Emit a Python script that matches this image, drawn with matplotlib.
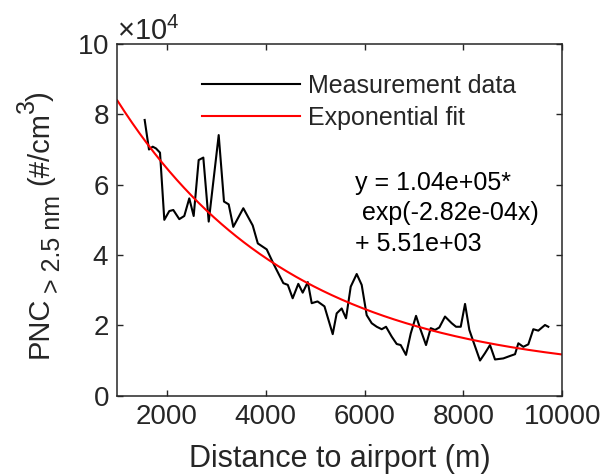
import numpy as np
import matplotlib
matplotlib.use('Agg')
import matplotlib.pyplot as plt

plt.rcParams['font.family'] = ['Liberation Sans', 'DejaVu Sans']
plt.rcParams['mathtext.fontset'] = 'custom'
plt.rcParams['mathtext.rm'] = 'Liberation Sans'
plt.rcParams['mathtext.it'] = 'Liberation Sans:italic'
plt.rcParams['mathtext.default'] = 'regular'

# measured PNC (#/cm3) vs distance to airport (m)
distance = [1554, 1641, 1716, 1783, 1864, 1951, 2052, 2133, 2254, 2355,
            2456, 2545, 2646, 2740, 2849, 3051, 3158, 3253, 3346, 3549,
            3739, 3842, 4022, 4156, 4358, 4449, 4547, 4661, 4750, 4853,
            4932, 5050, 5190, 5357, 5437, 5538, 5626, 5721, 5842, 5943,
            6044, 6146, 6247, 6348, 6435, 6550, 6651, 6732, 6839, 6935,
            7042, 7123, 7244, 7339, 7426, 7513, 7628, 7764, 7851, 7946,
            8033, 8120, 8201, 8336, 8437, 8538, 8639, 8807, 8943, 9044,
            9111, 9212, 9313, 9414, 9515, 9650, 9717]
pnc = [78400, 70000, 70800, 70300, 69100, 50000, 52500, 52800, 50200, 51100,
       56100, 51100, 67000, 67700, 49500, 74100, 55200, 54400, 48000, 53300,
       48400, 43300, 41600, 37600, 32000, 31500, 27700, 31800, 29300, 32300,
       26300, 26800, 25400, 17500, 23400, 24800, 22000, 31000, 34600, 31500,
       22900, 20600, 19600, 18900, 19600, 16800, 14700, 14400, 11600, 17700,
       22700, 19200, 14400, 19200, 18700, 19400, 22500, 20600, 19600, 19600,
       26100, 18700, 15400, 10000, 12100, 14400, 10300, 10600, 11300, 11800,
       14900, 13900, 14600, 18900, 18500, 20100, 19600]

# exponential fit y = a*exp(b*x) + c
fit_a = 1.04e5
fit_b = -2.82e-4
fit_c = 5.51e3
fit_x = np.linspace(1000, 10000, 300)
fit_y = fit_a * np.exp(fit_b * fit_x) + fit_c

txt = '#262626'
W, H = 603, 476
fig = plt.figure(figsize=(W / 100, H / 100), dpi=100)
ax = fig.add_axes([0.1945, 0.1687, 0.738, 0.7389])

ax.plot(distance, pnc, color='black', lw=1.5, label='Measurement data')
ax.plot(fit_x, fit_y, color='red', lw=1.5, label='Exponential fit')

ax.set_xlim(1000, 10000)
ax.set_ylim(0, 100000)
ax.set_xticks([2000, 4000, 6000, 8000, 10000])
ax.set_yticks([0, 20000, 40000, 60000, 80000, 100000])
ax.ticklabel_format(axis='y', style='sci', scilimits=(4, 4), useMathText=True)
ax.yaxis.get_offset_text().set_fontsize(21)
ax.yaxis.get_offset_text().set_color(txt)

ax.tick_params(direction='in', top=True, right=True, length=4, width=1,
               labelsize=20, colors=txt, pad=6)
for s in ax.spines.values():
    s.set_linewidth(1.1)
    s.set_color(txt)

ax.set_xlabel('Distance to airport (m)', fontsize=22, color=txt, labelpad=10)

# y label built piece by piece (big subscript / superscript like the original)
def ylab(s, x, y, size):
    fig.text(x / W, 1 - y / H, s, rotation=90, rotation_mode='anchor',
             ha='left', va='baseline', fontsize=size, color=txt)

ylab('PNC', 48, 358, 21)
ylab('> 2.5 nm', 60, 293, 18)
ylab('(#/cm', 48, 185, 21)
ylab('3', 34, 113, 18)
ylab(')', 48, 101, 21)

ax.legend(loc='upper left', bbox_to_anchor=(202 / W, 1 - 74 / H),
          bbox_transform=fig.transFigure, frameon=False, fontsize=18,
          handlelength=3.9, handletextpad=0.35, labelspacing=0.3,
          borderpad=0, borderaxespad=0, labelcolor=txt)

ax.text(0.534, 0.64, 'y = 1.04e+05*\n exp(-2.82e-04x)\n+ 5.51e+03',
        transform=ax.transAxes, ha='left', va='top', fontsize=18,
        color='black', linespacing=1.35)

fig.savefig('out.png', dpi=100)
